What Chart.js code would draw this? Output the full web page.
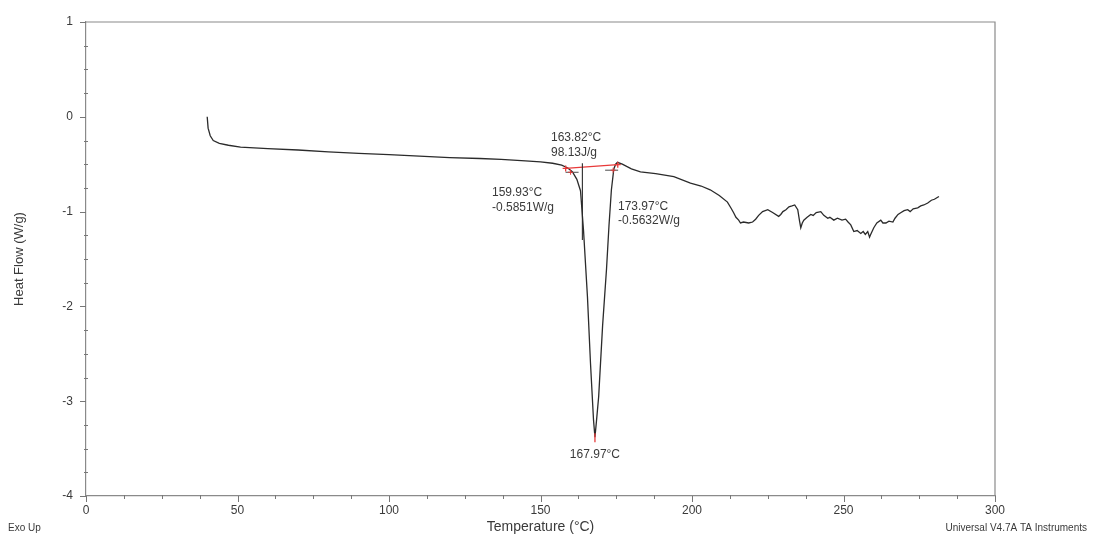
<!DOCTYPE html>
<html>
<head>
<meta charset="utf-8">
<script src="https://cdn.jsdelivr.net/npm/chart.js@4.4.0/dist/chart.umd.min.js"></script>
<style>
html,body{margin:0;padding:0;background:#fff;}
#wrap{width:1093px;height:540px;position:relative;}
</style>
</head>
<body>
<div id="wrap"><canvas id="c" width="1093" height="540"></canvas></div>
<script>
// ---- data ----
const temperature = [40,40.3,41,42,44,47,51,60,70,80,90,100,110,120,130,137,145,150,154,157,159,160.5,162,163.2,164.2,165.5,166.5,167.5,167.97,168.5,169.2,170.5,171.8,172.6,173.4,174.2,174.8,175.4,177,180,183,188,194,199.5,203,206,209,211.7,213,213.7,214.5,215.4,216,217,218.7,220,221,222,223.3,225,226.6,228.6,229.3,230,231,232,233,233.9,234.9,235.5,235.9,236.4,236.9,238,239.2,240,241,242.5,243.5,244.8,245.5,246.8,248,249.5,250.7,251.5,252.4,253.4,254.5,255.7,256.5,257.2,258,258.6,259,260,261,262.3,263,264,265,266.3,267,268,269,270,271.2,272,273,274.5,275.5,276.5,277.8,279,280,281.5];
const heatFlow = [0,-0.12,-0.2,-0.25,-0.28,-0.3,-0.32,-0.335,-0.35,-0.37,-0.385,-0.4,-0.415,-0.43,-0.44,-0.45,-0.465,-0.475,-0.49,-0.51,-0.54,-0.58,-0.66,-0.78,-1.2,-1.9,-2.6,-3.2,-3.38,-3.2,-2.95,-2.2,-1.6,-1.15,-0.77,-0.55,-0.5,-0.48,-0.5,-0.55,-0.58,-0.6,-0.63,-0.7,-0.73,-0.77,-0.83,-0.9,-0.97,-1.01,-1.06,-1.09,-1.12,-1.11,-1.12,-1.11,-1.08,-1.04,-1,-0.98,-1.01,-1.05,-1.03,-1,-0.98,-0.95,-0.94,-0.93,-0.98,-1.1,-1.17,-1.12,-1.09,-1.06,-1.03,-1.04,-1.01,-1,-1.04,-1.07,-1.06,-1.09,-1.07,-1.09,-1.08,-1.11,-1.14,-1.21,-1.2,-1.23,-1.21,-1.24,-1.21,-1.27,-1.24,-1.17,-1.12,-1.09,-1.12,-1.12,-1.1,-1.11,-1.07,-1.03,-1.01,-0.99,-0.98,-1,-0.97,-0.96,-0.94,-0.93,-0.91,-0.88,-0.87,-0.84];
const xTicks = [0,50,100,150,200,250,300];
const yTicks = [1,0,-1,-2,-3,-4];
// annotation values
const peakTemp = 167.97, peakFlow = -3.38;
const areaTemp = 163.82, enthalpy = "98.13J/g";
const onsetTemp = 159.93, onsetFlow = -0.5851;
const endTemp = 173.97, endFlow = -0.5632;
const baseStart = [158.3, -0.545], baseEnd = [175.5, -0.505];

const points = temperature.map((t,i)=>({x:t,y:heatFlow[i]}));
const FONT = "'Liberation Sans', Arial, sans-serif";
const TXT = '#3a3a3a';

const decor = {
  id:'decor',
  afterDraw(chart){
    const {ctx, chartArea:a, scales:{x,y}} = chart;
    ctx.save();
    // box
    ctx.strokeStyle='#8a8a8a'; ctx.lineWidth=1.2;
    ctx.beginPath();
    ctx.moveTo(a.left,a.top); ctx.lineTo(a.right,a.top); ctx.lineTo(a.right,a.bottom);
    ctx.stroke();
    // x ticks
    ctx.strokeStyle='#777'; ctx.lineWidth=1;
    for(let v=0; v<=300.01; v+=12.5){
      const px = Math.round(x.getPixelForValue(v))+0.5;
      const major = Math.abs(v%50)<1e-6;
      ctx.beginPath(); ctx.moveTo(px,a.bottom-(major?0:1)); ctx.lineTo(px,a.bottom+(major?6:3)); ctx.stroke();
    }
    // y ticks
    for(let v=-4; v<=1.001; v+=0.25){
      const py = Math.round(y.getPixelForValue(v))+0.5;
      const major = Math.abs(v-Math.round(v))<1e-6;
      ctx.beginPath(); ctx.moveTo(a.left-(major?6:2),py); ctx.lineTo(a.left+(major?0:2),py); ctx.stroke();
    }
    // annotations
    const X = v=>x.getPixelForValue(v), Y=v=>y.getPixelForValue(v);
    // baseline red
    ctx.strokeStyle='#e83a3a'; ctx.lineWidth=1.3;
    ctx.beginPath(); ctx.moveTo(X(baseStart[0]),Y(baseStart[1])); ctx.lineTo(X(baseEnd[0]),Y(baseEnd[1])); ctx.stroke();
    const cross=(px,py,s)=>{ctx.beginPath();ctx.moveTo(px-s,py);ctx.lineTo(px+s,py);ctx.moveTo(px,py-s);ctx.lineTo(px,py+s);ctx.stroke();};
    cross(X(baseStart[0]),Y(baseStart[1]),3);
    cross(X(baseEnd[0]),Y(baseEnd[1]),3);
    // peak marker
    ctx.beginPath(); ctx.moveTo(X(peakTemp),Y(peakFlow)-4); ctx.lineTo(X(peakTemp),Y(peakFlow)+5); ctx.stroke();
    // vertical line at area split
    ctx.strokeStyle='#2a2a2a'; ctx.lineWidth=1.1;
    ctx.beginPath(); ctx.moveTo(X(areaTemp),Y(-0.49)); ctx.lineTo(X(areaTemp),Y(-1.3)); ctx.stroke();
    // tangent segments at onset / end
    ctx.strokeStyle='#4a4a4a'; ctx.lineWidth=1;
    ctx.beginPath(); ctx.moveTo(X(onsetTemp)-5,Y(onsetFlow)); ctx.lineTo(X(onsetTemp)+8,Y(onsetFlow)); ctx.stroke();
    ctx.beginPath(); ctx.moveTo(X(endTemp)-8,Y(endFlow)); ctx.lineTo(X(endTemp)+5,Y(endFlow)); ctx.stroke();
    ctx.strokeStyle='#e83a3a';
    cross(X(onsetTemp),Y(onsetFlow),2.5);
    cross(X(endTemp),Y(endFlow),2.5);
    // texts
    ctx.fillStyle=TXT; ctx.font='12px '+FONT; ctx.textBaseline='middle'; ctx.textAlign='left';
    ctx.fillText(areaTemp.toFixed(2)+'°C', 551, 138);
    ctx.fillText(enthalpy, 551, 153);
    ctx.fillText(onsetTemp.toFixed(2)+'°C', 492, 193);
    ctx.fillText(onsetFlow.toFixed(4)+'W/g', 492, 208);
    ctx.fillText(endTemp.toFixed(2)+'°C', 618, 207);
    ctx.fillText(endFlow.toFixed(4)+'W/g', 618, 221);
    ctx.textAlign='center';
    ctx.fillText(peakTemp.toFixed(2)+'°C', X(peakTemp), 455);
    // footer texts
    ctx.font='10px '+FONT; ctx.textAlign='left';
    ctx.fillText('Exo Up', 8, 528);
    ctx.textAlign='right';
    ctx.fillText('Universal V4.7A TA Instruments', 1087, 528);
    ctx.restore();
  }
};

new Chart(document.getElementById('c'), {
  type:'scatter',
  data:{datasets:[{
    data:points, showLine:true, borderColor:'#2b2b2b', borderWidth:1.3,
    pointRadius:0, tension:0, fill:false
  }]},
  options:{
    responsive:false, animation:false, devicePixelRatio:1,
    layout:{padding:{left:0,right:98,top:22,bottom:0}},
    plugins:{legend:{display:false}, tooltip:{enabled:false}},
    scales:{
      x:{
        type:'linear', min:0, max:300,
        afterBuildTicks(s){ s.ticks = xTicks.map(v=>({value:v})); },
        afterFit(s){ s.height = 44; },
        grid:{display:true, drawOnChartArea:false, drawTicks:false},
        border:{display:true,color:'#8a8a8a',width:1.2},
        ticks:{padding:7, color:TXT, font:{family:FONT,size:12}, maxRotation:0},
        title:{display:true, text:'Temperature (°C)', color:TXT, font:{family:FONT,size:14}, padding:{top:0,bottom:4}}
      },
      y:{
        type:'linear', min:-4, max:1,
        afterBuildTicks(s){ s.ticks = yTicks.map(v=>({value:v})); },
        afterFit(s){ s.width = 86; },
        grid:{display:true, drawOnChartArea:false, drawTicks:false},
        border:{display:true,color:'#8a8a8a',width:1.2},
        ticks:{padding:13, color:TXT, font:{family:FONT,size:12}},
        title:{display:true, text:'Heat Flow (W/g)', color:TXT, font:{family:FONT,size:13}, padding:{top:12,bottom:0}}
      }
    }
  },
  plugins:[decor]
});
</script>
</body>
</html>
